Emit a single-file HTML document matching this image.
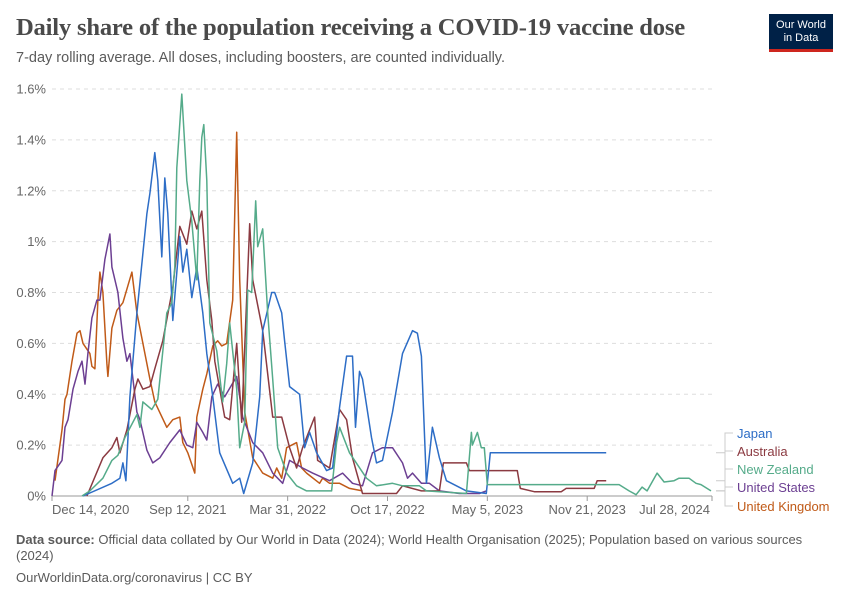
<!DOCTYPE html>
<html><head><meta charset="utf-8"><style>
body{margin:0;width:850px;height:600px;background:#fff;font-family:"Liberation Sans",sans-serif;overflow:hidden;position:relative}
.t{position:absolute;white-space:nowrap}
</style></head><body>
<div class="t" style="left:16px;top:14px;font-family:'Liberation Serif',serif;font-size:24.6px;font-weight:bold;color:#4a4a4a;letter-spacing:-0.2px">Daily share of the population receiving a COVID-19 vaccine dose</div>
<div class="t" style="left:16px;top:50px;font-size:14.5px;color:#5b5b5b">7-day rolling average. All doses, including boosters, are counted individually.</div>
<div style="position:absolute;left:769px;top:14px;width:64px;height:38px;background:#002147;border-bottom:3px solid #ce261e;box-sizing:border-box;color:#fff;font-size:11px;line-height:13px;text-align:center;padding-top:5px">Our World<br>in Data</div>
<svg id="chart" width="850" height="600" style="position:absolute;left:0;top:0" font-family="Liberation Sans, sans-serif"></svg>
<div class="t" style="left:16px;top:532px;font-size:13px;color:#5b5b5b;white-space:normal;width:800px;line-height:16px"><b>Data source:</b> Official data collated by Our World in Data (2024); World Health Organisation (2025); Population based on various sources (2024)</div>
<div class="t" style="left:16px;top:570px;font-size:13px;color:#5b5b5b">OurWorldinData.org/coronavirus | CC BY</div>
<script>
const yTicks=[0,0.2,0.4,0.6,0.8,1,1.2,1.4,1.6];
const yTickLabels=["0%","0.2%","0.4%","0.6%","0.8%","1%","1.2%","1.4%","1.6%"];
const xTickDays=[0,272,472,672,872,1072,1322];
const xTickLabels=["Dec 14, 2020","Sep 12, 2021","Mar 31, 2022","Oct 17, 2022","May 5, 2023","Nov 21, 2023","Jul 28, 2024"];
const seriesNames=["Japan","Australia","New Zealand","United States","United Kingdom"];
const japanDays=[62,120,136,142,148,156,170,190,196,206,212,220,226,232,242,256,262,270,280,290,302,310,322,336,362,376,384,402,416,422,440,446,460,466,476,496,506,516,530,550,562,576,590,602,608,616,622,640,650,662,682,702,722,732,740,750,762,776,790,830,870,878,1110];
const japanVals=[0,0.05,0.07,0.13,0.06,0.39,0.72,1.11,1.19,1.35,1.24,0.94,1.25,1.11,0.69,1.02,0.88,0.97,0.78,0.90,0.72,0.56,0.39,0.17,0.05,0.07,0.01,0.13,0.39,0.65,0.80,0.80,0.72,0.61,0.43,0.40,0.19,0.25,0.17,0.10,0.11,0.35,0.55,0.55,0.27,0.49,0.46,0.23,0.13,0.14,0.33,0.56,0.65,0.64,0.55,0.05,0.27,0.15,0.06,0.02,0.01,0.17,0.17];
const ausDays=[70,102,120,130,136,150,166,172,182,196,206,222,242,256,270,280,290,300,310,320,326,346,356,370,380,396,402,422,442,460,476,490,502,526,532,556,576,590,602,622,690,702,740,776,784,830,836,932,938,966,1020,1030,1086,1092,1110];
const ausVals=[0,.15,.19,.23,.17,.26,.42,.46,.42,.43,.50,.61,.82,1.06,.99,1.12,1.05,1.12,.85,.69,.53,.31,.30,.60,.29,1.07,.85,.65,.31,.31,.19,.11,.19,.31,.14,.11,.34,.30,.15,.01,.01,.04,.02,.02,.13,.13,.10,.10,.03,.017,.017,.03,.03,.06,.06];
const nzDays=[60,76,102,120,132,146,170,176,182,200,212,230,240,246,250,260,270,280,290,296,300,304,310,316,330,342,350,356,370,376,386,392,400,408,412,422,432,442,452,470,490,510,560,570,576,596,630,650,682,702,736,750,830,840,842,852,860,866,872,1136,1156,1170,1182,1192,1212,1226,1246,1256,1276,1290,1300,1320];
const nzVals=[0,.02,.07,.14,.16,.23,.32,.27,.37,.34,.38,.72,.76,.90,1.29,1.58,1.24,1.08,.85,1.24,1.41,1.46,1.24,.68,.57,.37,.52,.68,.42,.19,.29,.81,.80,1.16,.98,1.05,.72,.46,.19,.09,.04,.02,.02,.21,.27,.17,.07,.04,.05,.04,.04,.02,.01,.25,.20,.25,.19,.19,.045,.045,.02,.005,.035,.02,.09,.055,.06,.07,.07,.05,.045,.02];
const usDays=[0,6,20,26,32,42,52,60,66,72,80,90,96,106,116,120,132,142,150,156,170,176,190,202,216,236,256,270,282,290,302,310,320,332,346,370,382,402,422,442,462,476,502,522,556,582,602,622,642,662,682,702,712,722,740,756,776,816,856,870];
const usVals=[0,.10,.14,.27,.30,.42,.49,.53,.44,.56,.70,.77,.77,.93,1.03,.90,.80,.62,.53,.56,.33,.30,.18,.13,.15,.21,.26,.20,.19,.29,.25,.22,.39,.44,.39,.47,.31,.21,.17,.09,.05,.14,.11,.09,.06,.09,.05,.04,.17,.19,.19,.13,.07,.09,.05,.05,.02,.01,.01,.02];
const ukDays=[6,20,26,30,40,50,56,62,76,80,86,92,96,102,110,112,120,130,142,160,170,182,196,206,230,242,256,262,272,286,290,302,310,322,332,340,350,362,370,376,386,402,422,442,450,460,470,490,500,510,536,542,556,576,596,622];
const ukVals=[.06,.26,.38,.40,.53,.64,.65,.60,.56,.51,.50,.77,.88,.80,.52,.47,.66,.73,.76,.88,.72,.60,.46,.37,.27,.30,.31,.21,.17,.09,.31,.42,.48,.59,.61,.59,.60,.77,1.43,.85,.33,.15,.09,.07,.11,.07,.19,.21,.11,.09,.05,.07,.05,.05,.03,.02];

const svg=document.getElementById('chart');
const NS='http://www.w3.org/2000/svg';
const X0=52,X1=712,Y0=496,Y1=89,DMAX=1322,VMAX=1.6;
function xs(d){return X0+d*(X1-X0)/DMAX;}
function ys(v){return Y0-v*(Y0-Y1)/VMAX;}
function mk(tag,attrs){const e=document.createElementNS(NS,tag);for(const k in attrs)e.setAttribute(k,attrs[k]);svg.appendChild(e);return e;}

yTicks.forEach((v,i)=>{
  if(i>0){const g=mk('line',{x1:X0,x2:X1,y1:ys(v),y2:ys(v),stroke:'#ddd','stroke-dasharray':'4,4'});
  
  }
  const t=mk('text',{x:46,y:ys(v)+4.5,'text-anchor':'end','font-size':13,fill:'#666'});
  t.textContent=yTickLabels[i];
  
  
});
const ax=mk('line',{x1:X0,x2:X1,y1:Y0,y2:Y0,stroke:'#999'});


xTickDays.forEach((d,i)=>{
  const tk=mk('line',{x1:xs(d),x2:xs(d),y1:Y0,y2:Y0+5,stroke:'#999'});
  
  
  const anchor=i===0?'start':(i===xTickDays.length-1?'end':'middle');
  const tx=i===0?xs(d):(i===xTickDays.length-1?xs(d)-2:xs(d));
  const t=mk('text',{x:tx,y:514,'text-anchor':anchor,'font-size':13,fill:'#666'});
  t.textContent=xTickLabels[i];
  
  
});
const series=[[japanDays,japanVals,'#2d6dc6'],[ausDays,ausVals,'#8b3a41'],[nzDays,nzVals,'#55ab8a'],[usDays,usVals,'#6c3f92'],[ukDays,ukVals,'#c05a18']];
const order=[4,3,1,0,2];
order.forEach(i=>{
  const [ds,vs,c]=series[i];
  const p=mk('polyline',{points:ds.map((d,j)=>xs(d).toFixed(1)+','+ys(vs[j]).toFixed(1)).join(' '),fill:'none',stroke:c,'stroke-width':1.5,'stroke-linejoin':'round'});
  
  
});
const legY=[437,455,473,491,510];
series.forEach((s,i)=>{
  const endY=ys(s[1][s[1].length-1]);
  const cn=mk('polyline',{points:`716,${endY.toFixed(1)} 725,${endY.toFixed(1)} 725,${legY[i]-4} 733,${legY[i]-4}`,fill:'none',stroke:'#ccc'});
  
  
  const t=mk('text',{x:737,y:legY[i]+1,'font-size':13,fill:s[2]});
  t.textContent=seriesNames[i];
  
  
});
</script>
</body></html>
